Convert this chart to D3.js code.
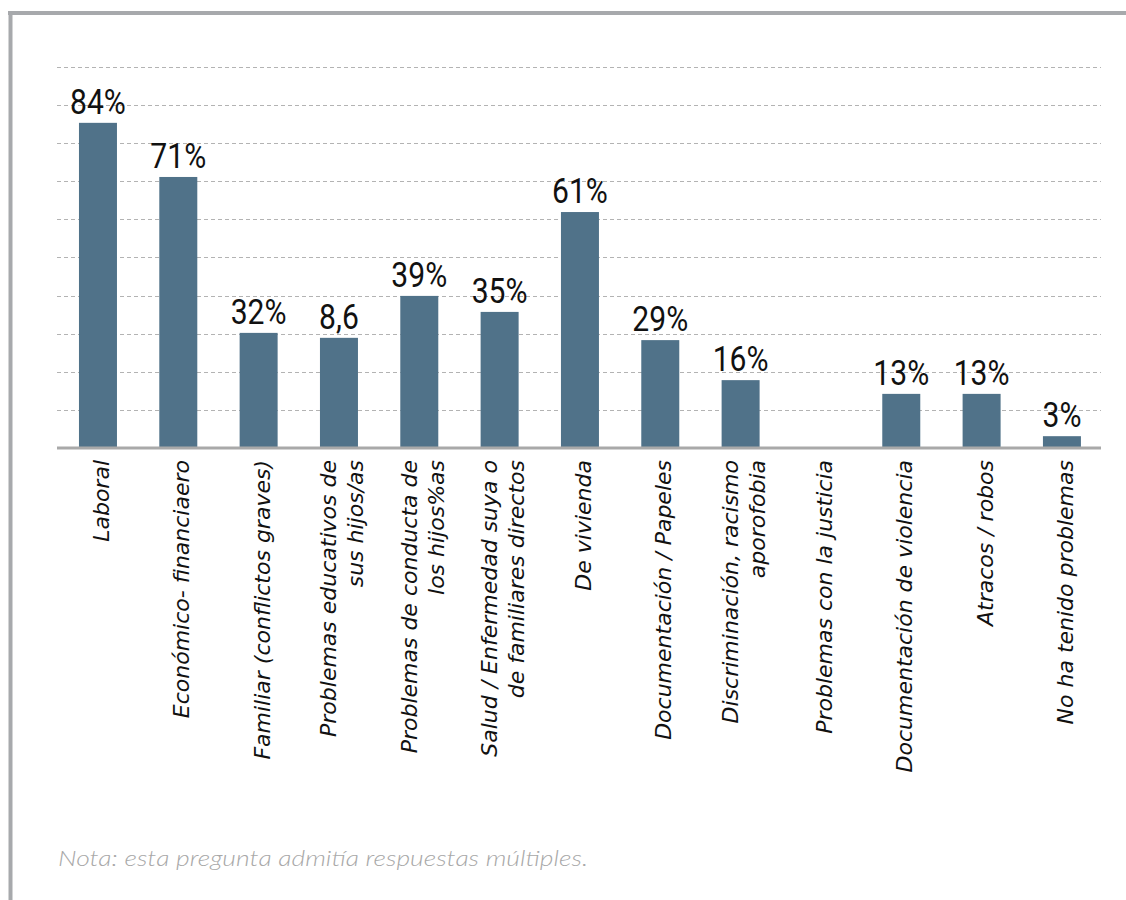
<!DOCTYPE html>
<html><head><meta charset="utf-8">
<script src="https://cdn.jsdelivr.net/npm/d3@7"></script>
<style>body{margin:0;background:#fff}svg{display:block}</style>
</head><body>
<svg id="c" width="1126" height="900"></svg>
<script>
const categories = [
  "Laboral",
  "Económico- financiaero",
  "Familiar (conflictos graves)",
  "Problemas educativos de\nsus hijos/as",
  "Problemas de conducta de\nlos hijos%as",
  "Salud / Enfermedad suya o\nde familiares directos",
  "De vivienda",
  "Documentación / Papeles",
  "Discriminación, racismo\naporofobia",
  "Problemas con la justicia",
  "Documentación de violencia",
  "Atracos / robos",
  "No ha tenido problemas"
];
const values = [85.3, 71.1, 30.2, 28.9, 39.9, 35.7, 61.9, 28.3, 17.8, 0, 14.2, 14.2, 3.1];
const valueLabels = ["84%", "71%", "32%", "8,6", "39%", "35%", "61%", "29%", "16%", "", "13%", "13%", "3%"];
const gridTicks = [10, 20, 30, 40, 50, 60, 70, 80, 90, 100];
const note = "Nota: esta pregunta admitía respuestas múltiples.";

const svg = d3.select("#c");
const W = 1126, H = 900;

// frame
svg.append("line").attr("x1", 8).attr("x2", W).attr("y1", 13).attr("y2", 13)
  .attr("stroke", "#a7a9ac").attr("stroke-width", 4);
svg.append("line").attr("x1", 10.5).attr("x2", 10.5).attr("y1", 11).attr("y2", H)
  .attr("stroke", "#a7a9ac").attr("stroke-width", 4);

const x = d3.scaleBand().domain(categories).range([57.8, 1102.1])
  .paddingInner(0.527).paddingOuter(0.2635);
const y = d3.scaleLinear().domain([0, 100]).range([448, 66.8]);

// grid
svg.append("g").selectAll("line").data(gridTicks).join("line")
  .attr("x1", 57).attr("x2", 1101)
  .attr("y1", d => Math.round(y(d)) + 0.5).attr("y2", d => Math.round(y(d)) + 0.5)
  .attr("stroke", "#b3b3b3").attr("stroke-width", 1).attr("stroke-dasharray", "4,3");

// bars
svg.append("g").selectAll("rect").data(values).join("rect")
  .attr("x", (d, i) => x(categories[i]))
  .attr("width", x.bandwidth())
  .attr("y", d => y(d))
  .attr("height", d => y(0) - y(d))
  .attr("fill", "#507289");

// baseline
svg.append("line").attr("x1", 57).attr("x2", 1101).attr("y1", y(0)).attr("y2", y(0))
  .attr("stroke", "#a9a9a9").attr("stroke-width", 3);

// value labels
svg.append("g").selectAll("text").data(values).join("text")
  .attr("transform", (d, i) => `translate(${x(categories[i]) + x.bandwidth() / 2},${y(d) - 9}) scale(0.86,1)`)
  .attr("text-anchor", "middle")
  .attr("font-family", "Roboto, sans-serif")
  .attr("font-size", 35)
  .attr("fill", "#111")
  .text((d, i) => valueLabels[i]);

// category labels
const lh = 27;
const cat = svg.append("g").selectAll("g").data(categories).join("g")
  .attr("transform", d => `translate(${x(d) + x.bandwidth() / 2},460) rotate(-90)`);
cat.each(function (d) {
  const lines = d.split("\n");
  const n = lines.length;
  d3.select(this).selectAll("text").data(lines).join("text")
    .attr("x", 0)
    .attr("y", (l, j) => (j - (n - 1) / 2) * lh)
    .attr("dy", "0.5em")
    .attr("text-anchor", "end")
    .attr("font-family", "'DejaVu Sans', sans-serif")
    .attr("font-style", "italic")
    .attr("font-size", 22)
    .attr("fill", "#111")
    .text(l => l);
});

// note
svg.append("text").attr("x", 58).attr("y", 866)
  .attr("font-family", "Lato, sans-serif").attr("font-style", "italic").attr("font-weight", 300)
  .attr("font-size", 21).attr("fill", "#a8a8a8")
  .attr("textLength", 530).attr("lengthAdjust", "spacingAndGlyphs")
  .text(note);
</script>
</body></html>
